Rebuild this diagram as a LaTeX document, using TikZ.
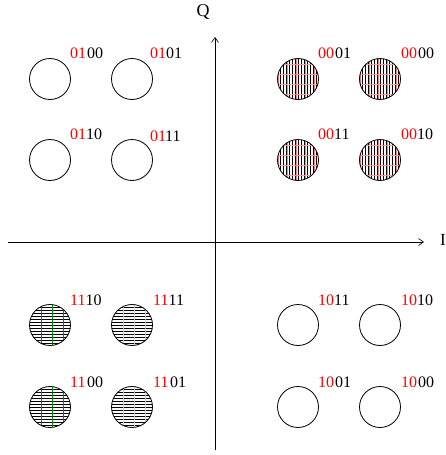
\documentclass[tikz,border=0pt]{standalone}
\usepackage{fontspec}
\setmainfont{Liberation Serif}
\begin{document}
\begin{tikzpicture}[x=1pt,y=-1pt,
  pt/.style={circle,draw,line width=0.8pt,minimum size=41pt,inner sep=0pt},
  lab/.style={inner sep=0pt,font=\fontsize{16}{17}\selectfont},
  axis/.style={draw,line width=0.6pt,-{Straight Barb[length=5pt,width=7pt]}}]
\usetikzlibrary{arrows.meta}
\useasboundingbox (0,0) rectangle (446,455);
% axes
\coordinate (xl) at (8,242);
\coordinate (xr) at (424,242);
\coordinate (yb) at (215,450);
\coordinate (yt) at (215,37);
\draw[axis] (xl) -- (xr);
\draw[axis] (yb) -- (yt);
\node[font=\fontsize{18}{19}\selectfont,inner sep=0pt] (Q) at (203,12) {Q};
\node[font=\fontsize{17}{18}\selectfont,inner sep=0pt,anchor=west] (I) at (440,240) {I};
% hatch macros
\newcommand{\vhatch}[2]{%
  \begin{scope}
  \clip (#1,#2) circle (20.5);
  \foreach \d in {-21,-18,...,21} \draw[black,line width=0.4pt] (#1+\d,#2-22) -- (#1+\d,#2+22);
  \foreach \d in {-19.5,-10.5,...,21} \draw[red!50,line width=0.2pt] (#1+\d,#2-22) -- (#1+\d,#2+22);
  \foreach \d in {-15,-5,5,15} \draw[red!40,line width=0.2pt] (#1-22,#2+\d) -- (#1+22,#2+\d);
  \end{scope}}
\newcommand{\hhatch}[3]{%
  \begin{scope}
  \clip (#1,#2) circle (20.5);
  \foreach \d in {-21,-18,...,21} \draw[black,line width=0.4pt] (#1-22,#2+\d) -- (#1+22,#2+\d);
  \foreach \d in {-9,2,13} \draw[#3,line width=0.2pt] (#1+\d,#2-22) -- (#1+\d,#2+22);
  \end{scope}}
% top-left
\node[pt] (c0100) at (50,79) {};
\node[pt] (c0101) at (132,79) {};
\node[pt] (c0110) at (50,160) {};
\node[pt] (c0111) at (132,160) {};
% top-right
\vhatch{298}{79}\vhatch{380}{79}\vhatch{298}{160}\vhatch{380}{160}
\node[pt] (c0001) at (298,79) {};
\node[pt] (c0000) at (380,79) {};
\node[pt] (c0011) at (298,160) {};
\node[pt] (c0010) at (380,160) {};
% bottom-left
\hhatch{50}{325}{green!55!black}\hhatch{132}{325}{black!20}\hhatch{50}{407}{green!55!black}\hhatch{132}{407}{black!20}
\node[pt] (c1110) at (50,325) {};
\node[pt] (c1111) at (132,325) {};
\node[pt] (c1100) at (50,407) {};
\node[pt] (c1101) at (132,407) {};
% bottom-right
\node[pt] (c1011) at (298,325) {};
\node[pt] (c1010) at (380,325) {};
\node[pt] (c1001) at (298,407) {};
\node[pt] (c1000) at (380,407) {};
% labels
\node[lab,anchor=west] (l0100) at (70,53) {\textcolor{red}{01}\kern1pt00};
\node[lab,anchor=west] (l0101) at (150,53) {\textcolor{red}{01}01};
\node[lab,anchor=west] (l0110) at (70,134) {\textcolor{red}{01}10};
\node[lab,anchor=west] (l0111) at (150,136) {\textcolor{red}{01}\kern-1pt11};
\node[lab,anchor=west] (l0001) at (318,53) {\textcolor{red}{00}\kern1pt01};
\node[lab,anchor=west] (l0000) at (401,53) {\textcolor{red}{00}\kern1pt00};
\node[lab,anchor=west] (l0011) at (318,134) {\textcolor{red}{00}11};
\node[lab,anchor=west] (l0010) at (401,134) {\textcolor{red}{00}10};
\node[lab,anchor=west] (l1110) at (70,300) {\textcolor{red}{11}10};
\node[lab,anchor=west] (l1111) at (153,300) {\textcolor{red}{11}11};
\node[lab,anchor=west] (l1100) at (70,382) {\textcolor{red}{11}\kern1.5pt00};
\node[lab,anchor=west] (l1101) at (153,382) {\textcolor{red}{11}\kern1.5pt01};
\node[lab,anchor=west] (l1011) at (318,300) {\textcolor{red}{10}11};
\node[lab,anchor=west] (l1010) at (401,300) {\textcolor{red}{10}10};
\node[lab,anchor=west] (l1001) at (318,382) {\textcolor{red}{10}\kern1pt01};
\node[lab,anchor=west] (l1000) at (401,382) {\textcolor{red}{10}\kern1pt00};
\end{tikzpicture}
\end{document}
